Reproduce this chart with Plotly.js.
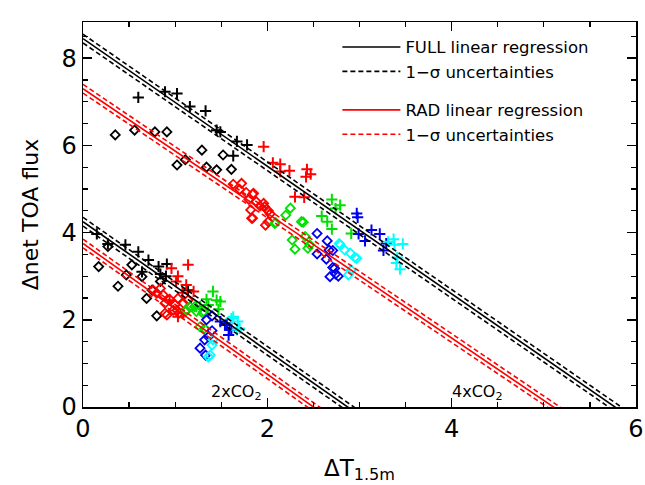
<!DOCTYPE html>
<html>
<head>
<meta charset="utf-8">
<script src="https://cdn.plot.ly/plotly-3.0.1.min.js"></script>
<style>html,body{margin:0;padding:0;background:#fff;}#chart{width:645px;height:485px;}</style>
</head>
<body>
<div id="chart"></div>
<script>
// ---- Data ----
// 4xCO2, FULL (crosses) and RAD (diamonds), by colour group
const black4xFullX = [0.60, 0.89, 1.02, 1.16, 1.33, 1.45, 1.49, 1.67, 1.63, 1.78];
const black4xFullY = [7.10, 7.23, 7.19, 6.89, 6.79, 6.35, 6.31, 6.09, 5.76, 6.01];
const black4xRadX = [0.35, 0.56, 0.78, 0.91, 1.29, 1.02, 1.11, 1.34, 1.45, 1.52, 1.61];
const black4xRadY = [6.24, 6.35, 6.31, 6.31, 5.89, 5.55, 5.67, 5.50, 5.44, 5.78, 5.45];
const red4xFullX = [1.96, 2.06, 2.14, 2.24, 2.43, 2.47, 2.42, 2.30, 2.40, 2.14];
const red4xFullY = [5.97, 5.60, 5.57, 5.42, 5.45, 5.34, 5.28, 4.82, 4.81, 5.40];
const red4xRadX = [1.63, 1.72, 1.70, 1.77, 1.84, 1.80, 1.88, 1.92, 1.97, 2.01, 1.82, 1.83, 1.98, 2.03, 1.85, 1.96, 2.01, 1.84];
const red4xRadY = [5.11, 5.13, 4.99, 4.92, 4.88, 4.76, 4.71, 4.61, 4.59, 4.50, 4.52, 4.33, 4.17, 4.43, 4.90, 4.67, 4.25, 4.33];
const green4xFullX = [2.70, 2.79, 2.59, 2.65, 2.70, 2.91, 2.74];
const green4xFullY = [4.76, 4.63, 4.38, 4.25, 4.08, 3.98, 4.55];
const green4xRadX = [2.39, 2.46, 2.25, 2.09, 2.37, 2.27, 2.30, 2.41, 2.44, 2.20, 2.08];
const green4xRadY = [4.24, 3.72, 4.56, 4.23, 4.25, 3.83, 3.62, 3.91, 3.64, 4.40, 4.21];
const blue4xFullX = [2.97, 2.98, 3.13, 3.06, 3.22, 3.26, 3.29, 2.99];
const blue4xFullY = [4.44, 4.35, 4.06, 3.81, 3.97, 3.59, 3.75, 3.97];
const blue4xRadX = [2.54, 2.65, 2.54, 2.64, 2.71, 2.74, 2.68, 2.71, 2.73, 2.77, 2.67];
const blue4xRadY = [3.98, 3.81, 3.51, 3.39, 3.20, 3.05, 2.99, 3.59, 3.18, 3.00, 3.60];
const cyan4xFullX = [3.31, 3.38, 3.47, 3.41, 3.44, 3.37, 3.40];
const cyan4xFullY = [3.79, 3.72, 3.74, 3.43, 3.16, 3.85, 3.30];
const cyan4xRadX = [2.79, 2.84, 2.90, 2.97, 2.88, 2.91, 2.78, 2.95];
const cyan4xRadY = [3.72, 3.60, 3.53, 3.41, 3.03, 3.14, 3.75, 3.43];

// 2xCO2
const black2xFullX = [0.15, 0.27, 0.46, 0.60, 0.71, 0.64, 0.82, 0.91, 1.14, 0.84, 0.90];
const black2xFullY = [3.97, 3.74, 3.72, 3.56, 3.37, 3.10, 3.22, 3.28, 2.68, 3.05, 3.00];
const black2xRadX = [0.17, 0.38, 0.27, 0.53, 0.64, 0.84, 0.69, 0.80, 0.47, 0.75];
const black2xRadY = [3.22, 2.77, 3.68, 3.26, 2.99, 2.88, 2.49, 2.09, 3.03, 2.68];
const red2xFullX = [1.14, 1.03, 1.01, 1.20, 1.12, 1.03, 0.94, 1.09, 0.96, 1.08];
const red2xFullY = [3.26, 3.00, 2.88, 2.65, 2.80, 2.07, 2.45, 2.15, 3.18, 2.62];
const red2xRadX = [0.80, 0.87, 0.94, 1.03, 0.89, 1.00, 1.09, 0.98, 1.04, 0.89, 0.76, 1.14, 0.84, 1.11, 0.91, 1.02];
const red2xRadY = [2.61, 2.57, 2.47, 2.49, 2.38, 2.34, 2.38, 2.22, 2.15, 2.15, 2.68, 2.45, 2.72, 2.19, 2.11, 2.22];
const green2xFullX = [1.41, 1.49, 1.34, 1.36, 1.27, 1.45, 1.47, 1.23];
const green2xFullY = [2.65, 2.42, 2.47, 2.34, 2.30, 2.45, 2.24, 2.30];
const green2xRadX = [1.16, 1.23, 1.30, 1.32, 1.12, 1.21, 1.31, 1.27];
const green2xRadY = [2.30, 2.19, 2.15, 1.80, 2.22, 2.30, 2.19, 1.84];
const blue2xFullX = [1.49, 1.54, 1.59, 1.58, 1.56, 1.61];
const blue2xFullY = [1.96, 1.88, 1.77, 1.65, 1.92, 1.77];
const blue2xRadX = [1.34, 1.40, 1.36, 1.27, 1.40, 1.32, 1.33];
const blue2xRadY = [2.00, 2.09, 1.61, 1.35, 1.75, 1.54, 1.19];
const cyan2xFullX = [1.63, 1.68, 1.67, 1.61, 1.70];
const cyan2xFullY = [2.07, 1.96, 1.77, 2.03, 1.80];
const cyan2xRadX = [1.40, 1.36, 1.38, 1.41];
const cyan2xRadY = [1.42, 1.15, 1.19, 1.54];

// Regression lines: intercept, slope, 1-sigma offset
const regNames = ["full4x", "rad4x", "full2x", "rad2x"];
const regIntercept = [8.45, 7.30, 4.25, 3.75];
const regSlope = [-1.464, -1.43, -1.48, -1.50];
const regSigma = [0.10, 0.10, 0.10, 0.10];
const regKind = ["FULL", "RAD", "FULL", "RAD"];

const xTicks = [0, 2, 4, 6];
const yTicks = [0, 2, 4, 6, 8];
const scenarioLabels = ["2xCO<sub>2</sub>", "4xCO<sub>2</sub>"];
const scenarioLabelX = [1.67, 4.28];
const scenarioLabelY = [0.34, 0.34];

// ---- Build traces ----
const colors = {black: "#000000", red: "#ff0000", green: "#00e000", blue: "#0000ee", cyan: "#00ffff"};
const traces = [];
function addMarkers(x, y, color, kind) {
  traces.push({
    type: "scatter", mode: "markers", x: x, y: y, showlegend: false, hoverinfo: "skip",
    marker: kind === "cross"
      ? {symbol: "cross-thin-open", size: 8, color: color, line: {color: color, width: 2}}
      : {symbol: "diamond-open", size: 7, color: color, line: {color: color, width: 1.8}}
  });
}
const groups = [
  ["black", black4xFullX, black4xFullY, black4xRadX, black4xRadY],
  ["red", red4xFullX, red4xFullY, red4xRadX, red4xRadY],
  ["green", green4xFullX, green4xFullY, green4xRadX, green4xRadY],
  ["blue", blue4xFullX, blue4xFullY, blue4xRadX, blue4xRadY],
  ["cyan", cyan4xFullX, cyan4xFullY, cyan4xRadX, cyan4xRadY],
  ["black", black2xFullX, black2xFullY, black2xRadX, black2xRadY],
  ["red", red2xFullX, red2xFullY, red2xRadX, red2xRadY],
  ["green", green2xFullX, green2xFullY, green2xRadX, green2xRadY],
  ["blue", blue2xFullX, blue2xFullY, blue2xRadX, blue2xRadY],
  ["cyan", cyan2xFullX, cyan2xFullY, cyan2xRadX, cyan2xRadY]
];
groups.forEach(g => {
  addMarkers(g[3], g[4], colors[g[0]], "diamond");
  addMarkers(g[1], g[2], colors[g[0]], "cross");
});

const lineX = [0, 6];
const legendShown = {};
regNames.forEach((n, i) => {
  const col = regKind[i] === "FULL" ? "#000000" : "#ff0000";
  const grp = regKind[i];
  const first = !legendShown[grp];
  legendShown[grp] = true;
  [-1, 1].forEach((s, k) => {
    traces.push({
      type: "scatter", mode: "lines", x: lineX,
      y: lineX.map(x => regIntercept[i] + s * regSigma[i] + regSlope[i] * x),
      line: {color: col, width: 1.6, dash: "5px,3px"},
      name: "1\u2212\u03c3 uncertainties", legendgroup: grp, legendrank: grp === "FULL" ? 2 : 4,
      showlegend: first && k === 0, hoverinfo: "skip"
    });
  });
  traces.push({
    type: "scatter", mode: "lines", x: lineX,
    y: lineX.map(x => regIntercept[i] + regSlope[i] * x),
    line: {color: col, width: 1.6},
    name: grp + " linear regression", legendgroup: grp, legendrank: grp === "FULL" ? 1 : 3,
    showlegend: first, hoverinfo: "skip"
  });
});

const axisCommon = {
  showgrid: false, zeroline: false, showline: true, linecolor: "#000", linewidth: 1.5,
  mirror: "allticks", ticks: "inside", ticklen: 9, tickwidth: 1.5, tickcolor: "#000",
  tickfont: {family: "DejaVu Sans, sans-serif", size: 24, color: "#000"},
  minor: {dtick: 0.5, ticks: "inside", ticklen: 5, tickwidth: 1.3, tickcolor: "#000"}
};

const layout = {
  width: 645, height: 485,
  margin: {l: 83, r: 9, t: 22, b: 78},
  paper_bgcolor: "#fff", plot_bgcolor: "#fff",
  showlegend: true,
  legend: {
    x: 0.46, y: 0.98, xanchor: "left", yanchor: "top",
    bgcolor: "rgba(0,0,0,0)", borderwidth: 0,
    font: {family: "DejaVu Sans, sans-serif", size: 16.5, color: "#000"},
    tracegroupgap: 14, itemwidth: 58, traceorder: "grouped"
  },
  xaxis: Object.assign({}, axisCommon, {
    range: [0, 6], tickvals: xTicks, ticktext: xTicks.map(String),
    title: {text: "\u0394T<sub>1.5m</sub>", font: {family: "DejaVu Sans, sans-serif", size: 23, color: "#000"}, standoff: 17}
  }),
  yaxis: Object.assign({}, axisCommon, {
    range: [0, 8.83], tickvals: yTicks, ticktext: yTicks.map(String),
    title: {text: "\u0394net TOA flux", font: {family: "DejaVu Sans, sans-serif", size: 22, color: "#000"}, standoff: 16}
  }),
  annotations: scenarioLabels.map((t, i) => ({
    x: scenarioLabelX[i], y: scenarioLabelY[i], xref: "x", yref: "y", text: t, showarrow: false,
    font: {family: "DejaVu Sans, sans-serif", size: 16, color: "#000"}
  }))
};

Plotly.newPlot("chart", traces, layout, {displayModeBar: false, staticPlot: true});
</script>
</body>
</html>
